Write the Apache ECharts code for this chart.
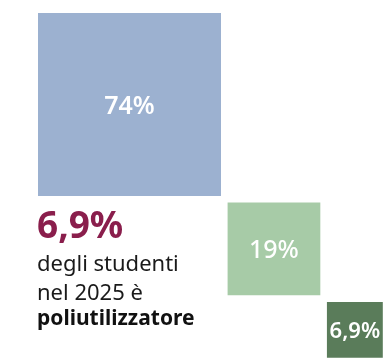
<!DOCTYPE html>
<html>
<head>
<meta charset="utf-8">
<script src="https://cdn.jsdelivr.net/npm/echarts@6/dist/echarts.min.js"></script>
<style>
  html, body { margin: 0; padding: 0; background: #fff; }
  #chart { width: 388px; height: 359px; }
</style>
</head>
<body>
<div id="chart"></div>
<script>
// Share of students by number of tools used (area-proportional squares)
const categories = ['mono', 'bi', 'poli'];
const shares = [74, 19, 6.9];
const colors = ['#9cb1d0', '#a7cba7', '#5a7c5a'];
const highlightIndex = 2;
const captionLines = ['degli studenti', 'nel 2025 è'];
const captionBold = 'poliutilizzatore';

const fmt = v => String(v).replace('.', ',') + '%';

// Square side in axis units = sqrt(share); squares step down diagonally
const gap = 0.31;
const sides = shares.map(v => Math.sqrt(v));
const starts = [];
let acc = 0;
sides.forEach((s, i) => { starts.push(acc); acc += s + (i < sides.length - 1 ? gap : 0); });
const total = acc;
const pxPerUnit = 183 / sides[0];

const data = categories.map((c, i) => ({
  name: c,
  value: [starts[i], starts[i], sides[i], shares[i]],
  itemStyle: { color: colors[i] }
}));

const chart = echarts.init(document.getElementById('chart'), null, { renderer: 'canvas' });
const fontFamily = '"Noto Sans", "Open Sans", sans-serif';
const labelFonts = ['600 25px ', '500 25px ', '600 22px '];

chart.setOption({
  animation: false,
  grid: { left: 38, top: 13, width: total * pxPerUnit, height: total * pxPerUnit },
  xAxis: { type: 'value', min: 0, max: total, show: false },
  yAxis: { type: 'value', min: 0, max: total, inverse: true, show: false },
  series: [{
    type: 'custom',
    data: data,
    encode: { x: [0], y: [1] },
    renderItem: function (params, api) {
      const x = api.value(0), y = api.value(1), s = api.value(2), v = api.value(3);
      const p0 = api.coord([x, y]);
      const p1 = api.coord([x + s, y + s]);
      const w = p1[0] - p0[0], h = p1[1] - p0[1];
      return {
        type: 'group',
        children: [{
          type: 'rect',
          shape: { x: p0[0], y: p0[1], width: w, height: h },
          style: { fill: api.visual('color') }
        }, {
          type: 'text',
          style: {
            x: p0[0] + w / 2,
            y: p0[1] + h / 2 + 2,
            text: fmt(v),
            fill: '#ffffff',
            font: labelFonts[params.dataIndex] + fontFamily,
            align: 'center',
            verticalAlign: 'middle'
          }
        }]
      };
    }
  }],
  graphic: [{
    type: 'text',
    left: 37, top: 209,
    style: {
      text: fmt(shares[highlightIndex]),
      fill: '#8a1e4c',
      font: '700 37px ' + fontFamily
    }
  }, {
    type: 'text',
    left: 37, top: 250,
    style: {
      text: captionLines.join('\n'),
      fill: '#1a1a1a',
      font: '400 22px ' + fontFamily,
      lineHeight: 29
    }
  }, {
    type: 'text',
    left: 37, top: 309,
    style: {
      text: captionBold,
      fill: '#111111',
      font: '700 21px ' + fontFamily
    }
  }]
});
</script>
</body>
</html>
